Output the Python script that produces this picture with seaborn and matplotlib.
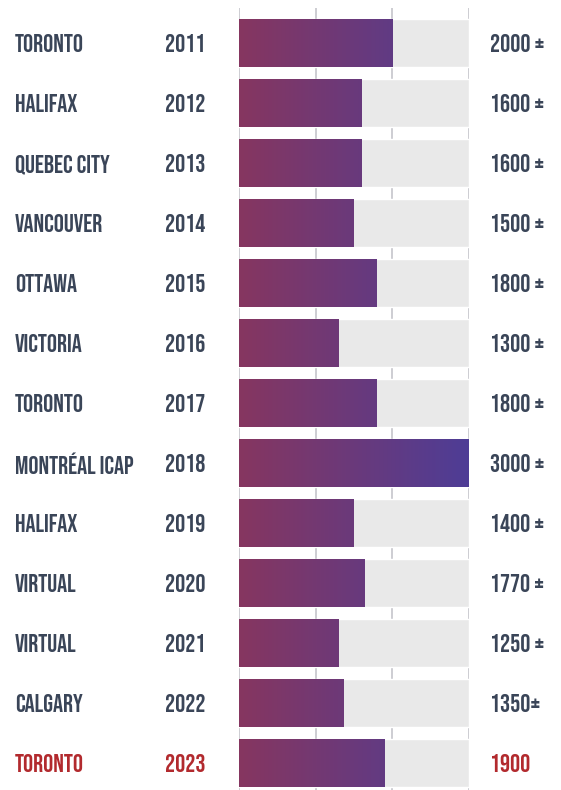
import matplotlib
matplotlib.use('Agg')
import matplotlib.pyplot as plt
import matplotlib.transforms as mtransforms
from matplotlib.colors import LinearSegmentedColormap
import numpy as np
import seaborn as sns

# conference history data
cities = ['TORONTO', 'HALIFAX', 'QUEBEC CITY', 'VANCOUVER', 'OTTAWA', 'VICTORIA',
          'TORONTO', 'MONTRÉAL ICAP', 'HALIFAX', 'VIRTUAL', 'VIRTUAL', 'CALGARY', 'TORONTO']
years = ['2011', '2012', '2013', '2014', '2015', '2016', '2017', '2018', '2019',
         '2020', '2021', '2022', '2023']
# bar lengths as drawn (a few differ from the printed labels)
bar_values = [2000, 1600, 1600, 1500, 1800, 1300, 1800, 3000, 1500, 1640, 1300, 1360, 1900]
value_labels = ['2000 ±', '1600 ±', '1600 ±', '1500 ±', '1800 ±', '1300 ±', '1800 ±',
                '3000 ±', '1400 ±', '1770 ±', '1250 ±', '1350±', '1900']
max_value = 3000

sns.set_style('white')
plt.rcParams['font.family'] = ['Bebas Neue', 'DejaVu Sans']

text_color = '#3A4558'
highlight_color = '#B22A2E'
cmap = LinearSegmentedColormap.from_list('bars', ['#863660', '#4E3D96'])

fig = plt.figure(figsize=(5.61, 7.90), dpi=100)
ax = fig.add_axes([239 / 561, 0, 230 / 561, 782 / 790])

# grey track behind each bar
sns.barplot(x=[max_value] * len(years), y=years, color='#E9E9E9', width=0.8,
            orient='h', ax=ax, zorder=2)
n_bg = len(ax.patches)
sns.barplot(x=bar_values, y=years, color='#7A3868', width=0.8, orient='h',
            ax=ax, zorder=3)

# gradient fill clipped to each value bar
grad = np.linspace(0, 1, 256).reshape(1, -1)
for patch in ax.patches[n_bg:]:
    y0 = patch.get_y()
    h = patch.get_height()
    im = ax.imshow(grad, cmap=cmap, aspect='auto', extent=[0, max_value, y0 + h, y0],
                   zorder=4, interpolation='bilinear')
    im.set_clip_path(patch)
    patch.set_facecolor('none')
    patch.set_edgecolor('none')

ax.set_xlim(0, max_value)
ax.set_ylim(12.45, -0.583)
ax.set_xticks([0, 1000, 2000, 3000])
ax.xaxis.grid(True, color='#C9C9CF', linewidth=1.3)
ax.set_axisbelow(True)
ax.tick_params(left=False, bottom=False, labelleft=False, labelbottom=False)
ax.set_xlabel('')
ax.set_ylabel('')
sns.despine(ax=ax, left=True, bottom=True)

trans = mtransforms.blended_transform_factory(fig.transFigure, ax.transData)
for i, (city, year, lab) in enumerate(zip(cities, years, value_labels)):
    c = highlight_color if i == len(cities) - 1 else text_color
    kw = dict(transform=trans, va='center_baseline', ha='left', color=c, fontsize=18,
              clip_on=False)
    ax.text(15 / 561, i, city, **kw)
    ax.text(165 / 561, i, year, **kw)
    ax.text(490 / 561, i, lab, **kw)

fig.savefig('out.png', dpi=100)
